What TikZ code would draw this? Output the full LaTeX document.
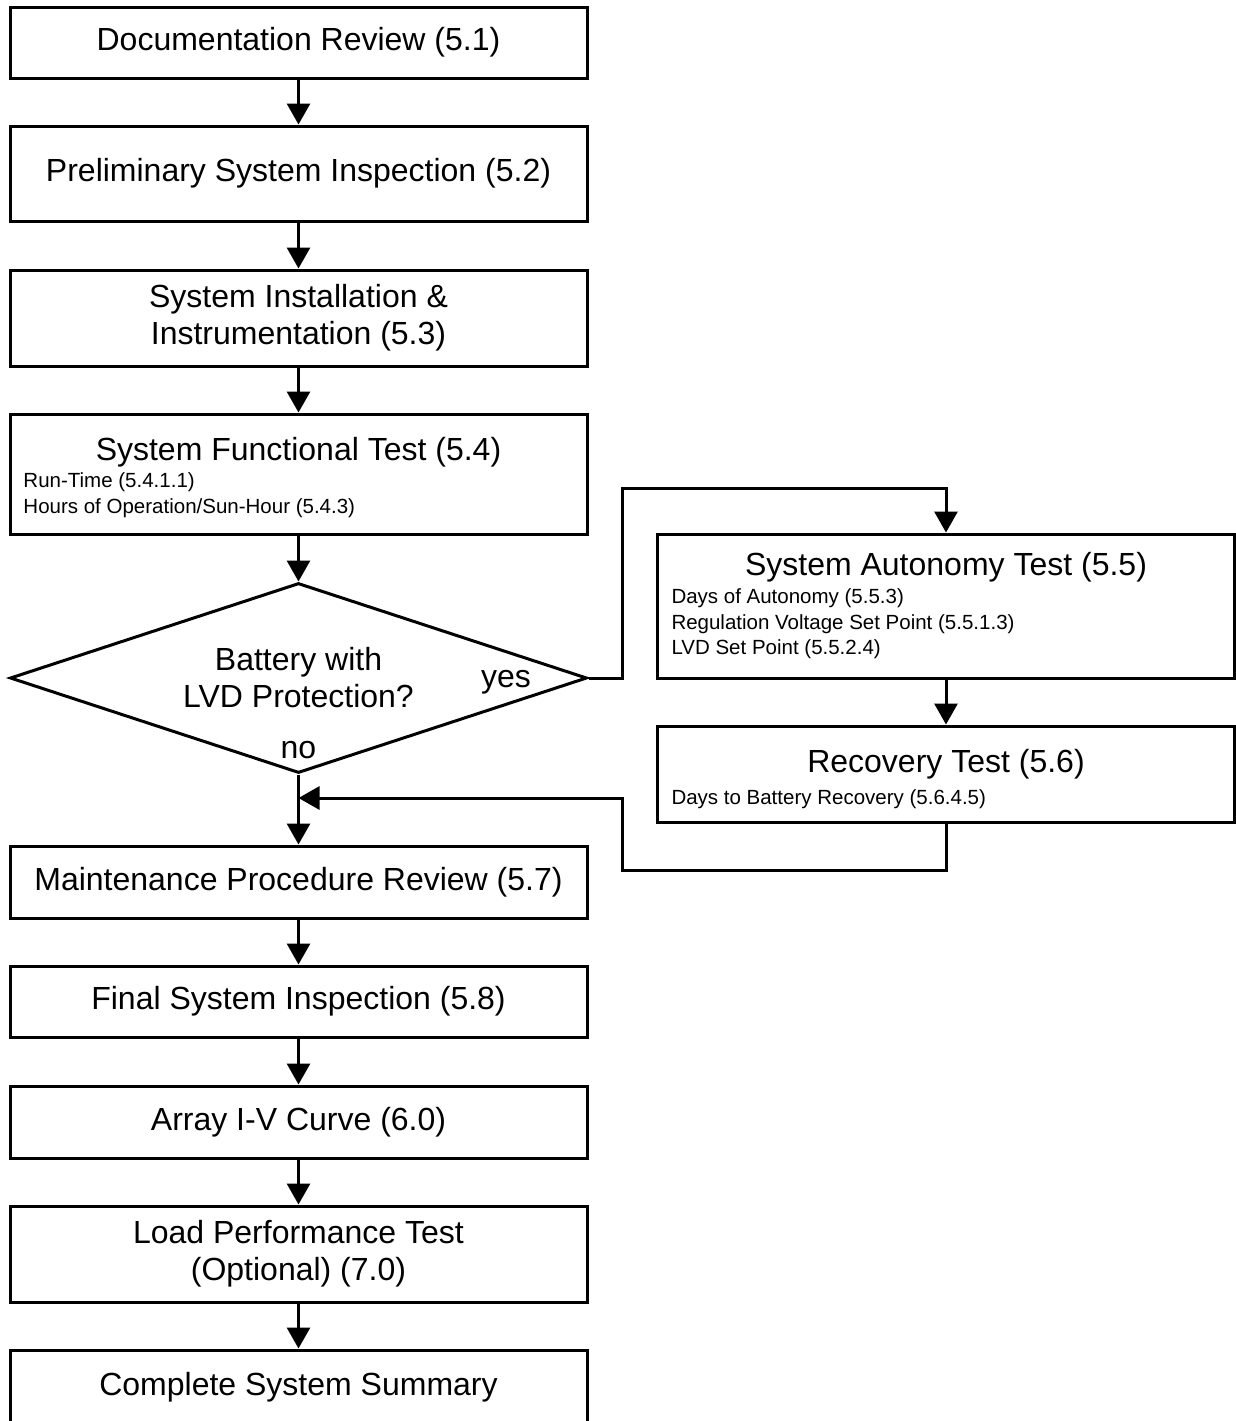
\documentclass[tikz,border=0pt]{standalone}
\usepackage{fontspec}
\setmainfont{Liberation Sans}
\usetikzlibrary{shapes.geometric,arrows.meta}
\newcommand{\bigtxt}{\fontsize{16}{18.5}\selectfont}
\newcommand{\smalltxt}{\fontsize{10.25}{12.5}\selectfont}
\begin{document}
\begin{tikzpicture}[x=0.5pt,y=-0.5pt,line width=1.5pt,
stepbox/.style={draw,rectangle,minimum width=288.5pt,inner xsep=6pt,inner ysep=0pt,align=center,font=\bigtxt},
title/.style={anchor=base,inner sep=0pt,font=\bigtxt},
note/.style={anchor=base west,inner sep=0pt,font=\smalltxt},
decision/.style={draw,diamond,minimum width=288.5pt,minimum height=95pt,shape aspect=3,inner sep=0pt,align=center,font=\bigtxt},
flow/.style={-{Triangle[length=10.5pt,width=11.5pt]}}]
\useasboundingbox(0,0)rectangle(1236,1421);
\node[stepbox,minimum height=35.5pt](docrev)at(298.5,42.5){Documentation Review (5.1)};
\node[stepbox,minimum height=47.5pt](prelim)at(298.5,173.5){Preliminary System Inspection (5.2)};
\node[stepbox,minimum height=48pt](install)at(298.5,318){System Installation \&\\Instrumentation (5.3)};
\node[stepbox,minimum height=60pt](functest)at(298.5,474){};
\node[title](functitle)at(298.5,460){System Functional Test (5.4)};
\foreach[count=\k,evaluate=\k as \y using 461+26*\k]\t in{{Run-Time (5.4.1.1)},{Hours of Operation/Sun-Hour (5.4.3)}}{\node[note](fnote\k)at(22,\y){\t};}
\node[decision](battery)at(298.5,678){Battery with\\LVD Protection?};
\node[anchor=base,font=\bigtxt](yes)at(506,687){yes};\node[anchor=base,font=\bigtxt](no)at(298.5,758){no};
\node[stepbox,minimum height=72pt](autonomy)at(946,606){};
\node[title](autotitle)at(946,575){System Autonomy Test (5.5)};
\foreach[count=\k,evaluate=\k as \y using 578+25.5*\k]\t in{{Days of Autonomy (5.5.3)},{Regulation Voltage Set Point (5.5.1.3)},{LVD Set Point (5.5.2.4)}}{\node[note](anote\k)at(670,\y){\t};}
\node[stepbox,minimum height=48pt](recovery)at(946,774){};
\node[title](recotitle)at(946,772){Recovery Test (5.6)};
\node[note](rnote1)at(670,804){Days to Battery Recovery (5.6.4.5)};
\node[stepbox,minimum height=36pt](maint)at(298.5,882){Maintenance Procedure Review (5.7)};
\node[stepbox,minimum height=35.5pt](final)at(298.5,1001.5){Final System Inspection (5.8)};
\node[stepbox,minimum height=36pt](array)at(298.5,1122){Array I-V Curve (6.0)};
\node[stepbox,minimum height=48pt](load)at(298.5,1254){Load Performance Test\\(Optional) (7.0)};
\node[stepbox,minimum height=37pt](summary)at(298.5,1387){Complete System Summary};
\foreach\a/\b in{docrev/prelim,prelim/install,install/functest,functest/battery,battery/maint,maint/final,final/array,array/load,load/summary,autonomy/recovery}{\draw[flow](\a)--(\b);}
\coordinate(yesturn)at(622,488);\coordinate(backturn)at(622,870);\coordinate(backjoin)at(298.5,798);
\draw[flow](battery.east)-|(yesturn)-|(autonomy.north);
\draw[flow](recovery.south)|-(backturn)|-(backjoin);
\end{tikzpicture}
\end{document}
